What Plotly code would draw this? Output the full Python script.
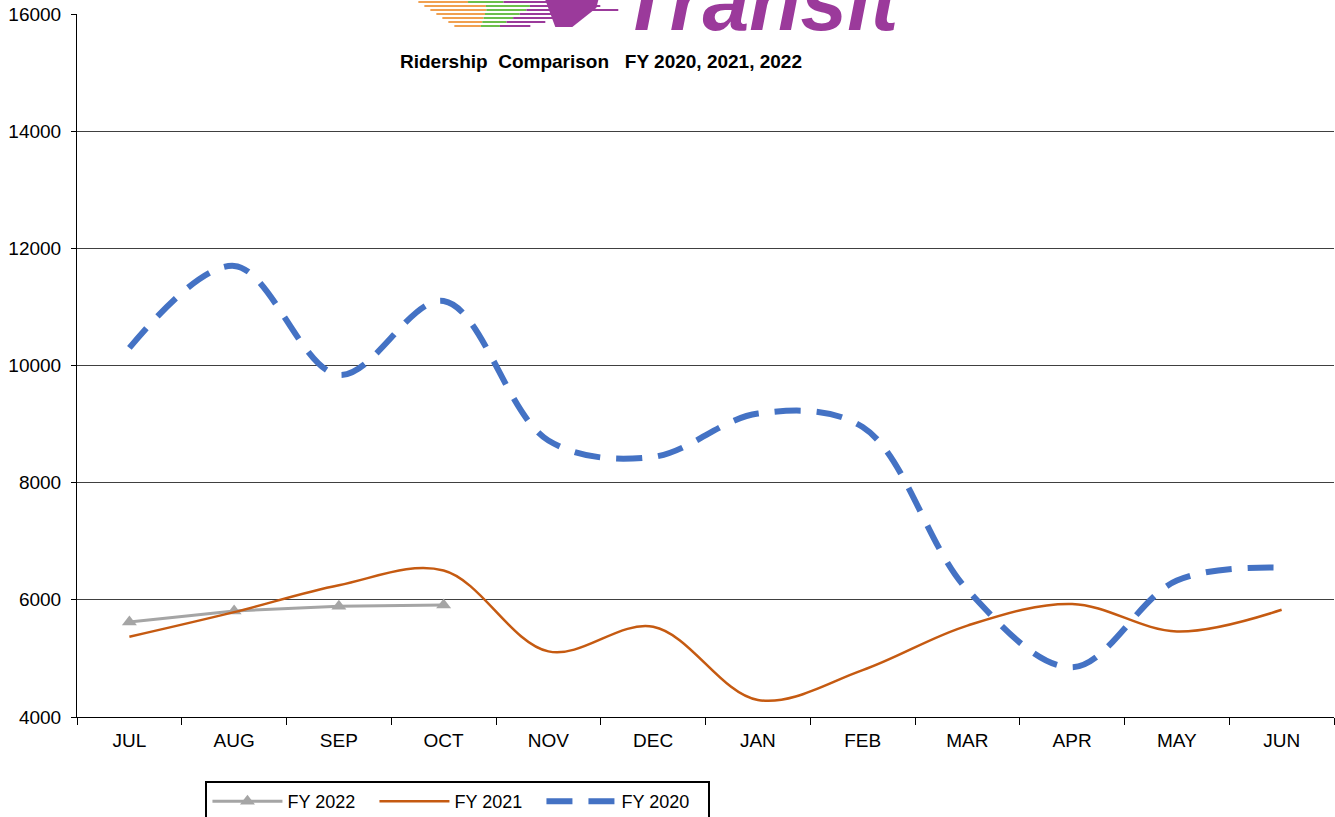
import plotly.graph_objects as go

months = ["JUL", "AUG", "SEP", "OCT", "NOV", "DEC", "JAN", "FEB", "MAR", "APR", "MAY", "JUN"]
fy2022 = [5620, 5810, 5890, 5910]
fy2021 = [5370, 5790, 6250, 6500, 5120, 5540, 4290, 4800, 5560, 5930, 5460, 5830]
fy2020 = [10300, 11700, 9840, 11100, 8720, 8440, 9180, 8950, 6170, 4850, 6330, 6550]
y_ticks = [4000, 6000, 8000, 10000, 12000, 14000, 16000]

# page body margin is removed by the post script, so figure fills the window
W, H = 1335, 817
# plot area in screen pixels
SL, SR, ST, SB = 76.5, 1334, 14, 717
L, R, T, B = SL, SR, ST, SB


def px_x(sx):
    return (sx - SL) / (SR - SL)


def px_y(sy):
    return (SB - sy) / (SB - ST)


fig = go.Figure()
fig.add_trace(go.Scatter(
    x=months[:len(fy2022)], y=fy2022, name="FY 2022", mode="lines+markers",
    line=dict(color="#a5a5a5", width=3),
    marker=dict(symbol="triangle-up", size=13, color="#a5a5a5")))
fig.add_trace(go.Scatter(
    x=months, y=fy2021, name="FY 2021", mode="lines",
    line=dict(color="#c55a11", width=2.5, shape="spline")))
fig.add_trace(go.Scatter(
    x=months, y=fy2020, name="FY 2020", mode="lines",
    line=dict(color="#4472c4", width=6, shape="spline", dash="26px,16px")))

# logo streaks (decoration)
shapes = []
streak_rows = [(2, 418, 560), (6, 424, 600), (10, 430, 590), (14, 436, 575),
               (18, 442, 560), (22, 448, 545), (26, 454, 530)]
for yy, x0, x1 in streak_rows:
    span = x1 - x0
    segs = [(x0, x0 + span * 0.35, "#f0a050"), (x0 + span * 0.35, x0 + span * 0.6, "#6cbf4a"),
            (x0 + span * 0.6, x1, "#9b3a9b")]
    for a, b, c in segs:
        shapes.append(dict(type="line", xref="paper", yref="paper",
                           x0=px_x(a), x1=px_x(b), y0=px_y(yy), y1=px_y(yy),
                           line=dict(color=c, width=2)))
shapes.append(dict(type="path", xref="paper", yref="paper",
                   path="M {} {} L {} {} L {} {} L {} {} L {} {} Z".format(
                       px_x(545), px_y(0), px_x(598), px_y(0), px_x(596), px_y(8),
                       px_x(572), px_y(27), px_x(555), px_y(27)),
                   fillcolor="#9b3a9b", line=dict(width=0)))
shapes.append(dict(type="line", xref="paper", yref="paper",
                   x0=px_x(590), x1=px_x(618), y0=px_y(10), y1=px_y(10),
                   line=dict(color="#9b3a9b", width=2)))

annotations = [
    dict(text="Ridership  Comparison   FY 2020, 2021, 2022", xref="paper", yref="paper",
         x=px_x(600.5), y=px_y(62), showarrow=False, xanchor="center", yanchor="middle",
         font=dict(family="Liberation Sans, Arial", size=19, color="black", weight="bold")),
    dict(text="<b><i>Transit</i></b>", xref="paper", yref="paper",
         x=px_x(618), y=px_y(50), showarrow=False, xanchor="left", yanchor="bottom",
         font=dict(family="Liberation Sans, Arial", size=84, color="#9b3a9b")),
]

fig.update_layout(
    width=W, height=H,
    margin=dict(l=L, r=W - R, t=T, b=H - B, autoexpand=False),
    paper_bgcolor="white", plot_bgcolor="white",
    font=dict(family="Liberation Sans, Arial", size=18, color="black"),
    showlegend=True,
    legend=dict(orientation="h", x=px_x(205), xanchor="left", y=px_y(781), yanchor="top",
                bordercolor="black", borderwidth=2, font=dict(size=18),
                itemwidth=70, entrywidth=82, entrywidthmode="pixels", traceorder="normal"),
    shapes=shapes,
    annotations=annotations,
    xaxis=dict(type="category", categoryorder="array", categoryarray=months,
               range=[-0.5, 11.5], tickson="boundaries", ticks="outside", ticklen=7,
               tickcolor="black", showline=True, linecolor="black", linewidth=1,
               showgrid=False, tickfont=dict(size=19), ticklabelstandoff=6),
    yaxis=dict(range=[4000, 16000], tickvals=y_ticks, tickformat="d", ticks="outside", ticklen=5,
               tickcolor="black", showline=True, linecolor="black", linewidth=1,
               showgrid=True, gridcolor="#404040", gridwidth=1, zeroline=False,
               tickfont=dict(size=19), ticklabelstandoff=6, ticklabeloverflow="allow"),
)

fig.write_html("out.html", config={"displayModeBar": False},
               post_script="document.body.style.margin='0';")
